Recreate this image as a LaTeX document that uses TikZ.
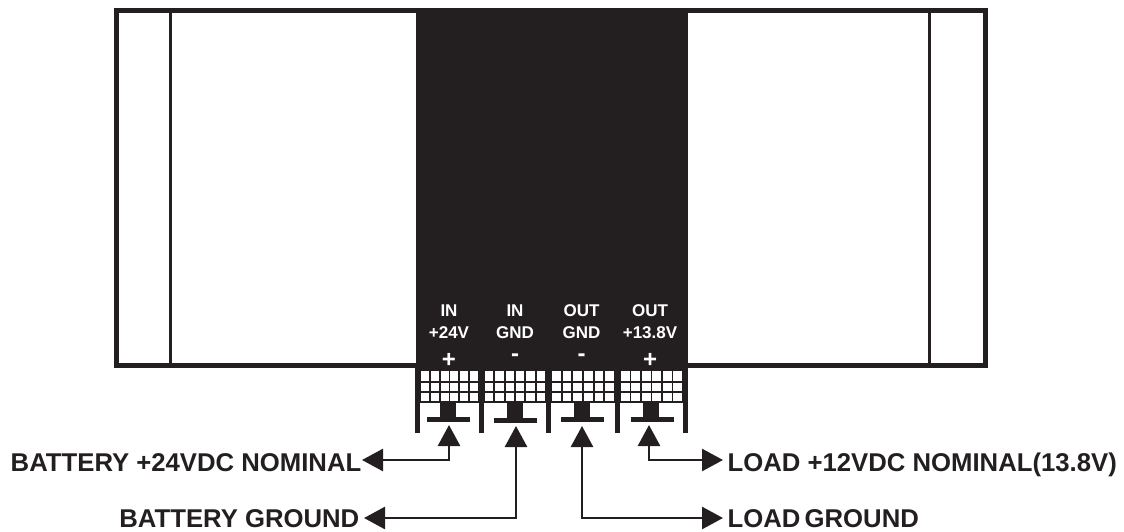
\documentclass[tikz,border=0pt]{standalone}
\usepackage{fontspec}
\setmainfont{Liberation Sans}
\usetikzlibrary{arrows.meta}
\definecolor{ink}{HTML}{231F20}
\tikzset{
  x=1pt,y=-1pt,
  frameline/.style={draw=ink,line width=5pt},
  divider/.style={draw=ink,line width=3pt},
  solid block/.style={fill=ink,draw=none},
  post/.style={fill=ink,draw=none},
  gridline/.style={draw=ink,line width=1.9pt},
  conn/.style={draw=ink,line width=2.7pt,{Triangle[length=21pt,width=22pt]}-{Triangle[length=21pt,width=22pt]}},
  lbl/.style={inner sep=0pt,text=ink,font=\fontsize{25.7}{27}\selectfont\bfseries,text height=22pt,text depth=0pt},
  lowlbl/.style={lbl,text height=19pt},
  term/.style={inner sep=0pt,text=white,align=center,font=\fontsize{17}{22}\selectfont\bfseries},
  pol/.style={inner sep=0pt,text=white,font=\fontsize{24}{24}\selectfont\bfseries},
  stem/.style={fill=ink,draw=none,inner sep=0pt,minimum width=16pt,minimum height=15pt},
  barpart/.style={fill=ink,draw=none,inner sep=0pt,minimum width=43pt,minimum height=5pt},
}
\begin{document}
\begin{tikzpicture}
\useasboundingbox (0,0) rectangle (1124,531);
% housing
\draw[frameline] (116,10.5) rectangle (985,365.5);
\draw[divider] (170,10.5) -- (170,365.5);
\draw[divider] (929,10.5) -- (929,365.5);
\fill[solid block] (415.7,8) rectangle (687.7,369);
% terminal posts
\foreach \x in {415.2,479,545.7,615,682.7}
  \fill[post] (\x,366) rectangle (\x+5,433);
% terminal grid
\foreach \xa/\xb in {420/479,484/546,551/615,620/683}{
  \foreach \y in {370,382,392,402}
    \draw[gridline] (\xa,\y) -- (\xb,\y);
  \foreach \x in {0,1,...,6}
    \draw[gridline] ({\xa+\x*(\xb-\xa)/6},370) -- ({\xa+\x*(\xb-\xa)/6},402);
}
% screws
\node[stem] (stema) at (448,409.5) {};
\node[stem] (stemb) at (514.5,410) {};
\node[stem] (stemc) at (581.5,410) {};
\node[stem] (stemd) at (651,410) {};
\node[barpart] (bara) at (448.5,419) {};
\node[barpart] (barb) at (515,420) {};
\node[barpart] (barc) at (582.5,419.5) {};
\node[barpart] (bard) at (652,419.5) {};
% terminal labels
\node[term] (ta) at (449,322) {IN\\+24V};
\node[term] (tb) at (515,322) {IN\\GND};
\node[term] (tc) at (581.5,322) {OUT\\GND};
\node[term] (td) at (650,322) {OUT\\+13.8V};
\node[pol] (pa) at (449,360) {+};
\node[pol] (pb) at (515,358) {-};
\node[pol] (pc) at (581.5,358) {-};
\node[pol] (pd) at (650,360) {+};
% outer labels
\node[lbl,anchor=east] (la) at (361.5,460) {BATTERY +24VDC NOMINAL};
\node[lowlbl,anchor=east] (lb) at (359.5,518) {BATTERY GROUND};
\node[lowlbl,anchor=west] (lc) at (727.5,518) {LOAD\kern-3pt\ GROUND};
\node[lbl,anchor=west] (ld) at (727.5,460) {LOAD +12VDC NOMINAL(13.8V)};
% arrow ends
\coordinate (tipa) at (449,425);
\coordinate (tipb) at (516,426);
\coordinate (tipc) at (582,426);
\coordinate (tipd) at (649,425);
% connectors
\draw[conn] (tipa) |- ([xshift=0.5pt]la.east);
\draw[conn] (tipb) |- ([xshift=4.5pt]lb.east);
\draw[conn] (tipc) |- ([xshift=-4.5pt]lc.west);
\draw[conn] (tipd) |- ([xshift=-4.5pt]ld.west);
\end{tikzpicture}
\end{document}
